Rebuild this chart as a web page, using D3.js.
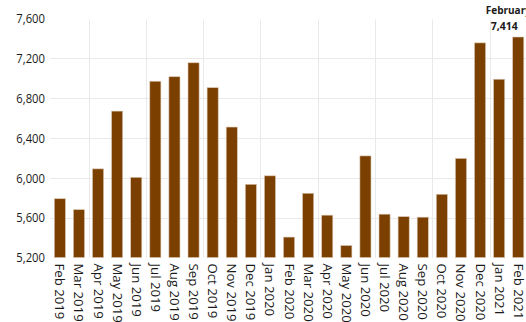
<!DOCTYPE html>
<html>
<head>
<meta charset="utf-8">
<script src="https://cdn.jsdelivr.net/npm/d3@7"></script>
<style>
  html, body { margin: 0; padding: 0; background: #fff; }
  svg { display: block; }
  text { font-family: "Open Sans", "Noto Sans", sans-serif; fill: #1a1a1a; }
</style>
</head>
<body>
<svg id="chart" width="526" height="322"></svg>
<script>
// Monthly totals, Feb 2019 – Feb 2021
const months = [
  "Feb 2019", "Mar 2019", "Apr 2019", "May 2019", "Jun 2019", "Jul 2019",
  "Aug 2019", "Sep 2019", "Oct 2019", "Nov 2019", "Dec 2019", "Jan 2020",
  "Feb 2020", "Mar 2020", "Apr 2020", "May 2020", "Jun 2020", "Jul 2020",
  "Aug 2020", "Sep 2020", "Oct 2020", "Nov 2020", "Dec 2020", "Jan 2021",
  "Feb 2021"
];
const values = [
  5790, 5680, 6090, 6670, 6005, 6970,
  7015, 7155, 6905, 6510, 5935, 6020,
  5405, 5845, 5625, 5320, 6220, 5635,
  5610, 5605, 5835, 6195, 7355, 6990,
  7414
];
const yTicks = [5200, 5600, 6000, 6400, 6800, 7200, 7600];
const quarterStarts = ["Apr 2019", "Jul 2019", "Oct 2019", "Jan 2020", "Apr 2020", "Jul 2020", "Oct 2020", "Jan 2021"];
const highlight = { month: "Feb 2021", title: "February", value: 7414 };

const svg = d3.select("#chart");
const plot = { left: 50.3, right: 527.8, top: 18.5, bottom: 257.5 };

const x = d3.scaleBand()
  .domain(months)
  .range([plot.left, plot.right])
  .paddingInner(0.42)
  .paddingOuter(0.21);

const y = d3.scaleLinear()
  .domain([5200, 7600])
  .range([plot.bottom, plot.top]);

// horizontal gridlines (top one omitted)
svg.append("g")
  .selectAll("line")
  .data(yTicks.filter(t => t > 5200 && t < 7600))
  .join("line")
  .attr("x1", plot.left)
  .attr("x2", 526)
  .attr("y1", d => Math.round(y(d)) + 0.5)
  .attr("y2", d => Math.round(y(d)) + 0.5)
  .attr("stroke", "#e9e9e9")
  .attr("stroke-width", 1);

// vertical gridlines at quarter boundaries
const step = x.step();
svg.append("g")
  .selectAll("line")
  .data(quarterStarts)
  .join("line")
  .attr("x1", d => Math.round(x(d) - (step - x.bandwidth()) / 2) + 0.5)
  .attr("x2", d => Math.round(x(d) - (step - x.bandwidth()) / 2) + 0.5)
  .attr("y1", plot.top + 1)
  .attr("y2", plot.bottom)
  .attr("stroke", "#e9e9e9")
  .attr("stroke-width", 1);

// y axis labels
const yAxis = d3.axisLeft(y).tickValues(yTicks).tickFormat(d3.format(",")).tickSize(0).tickPadding(0);
const gy = svg.append("g")
  .attr("transform", "translate(45,0)")
  .call(yAxis);
gy.select(".domain").remove();
gy.selectAll("text")
  .attr("font-size", "12px")
  .attr("font-family", "'Open Sans', sans-serif")
  .attr("fill", "#1a1a1a")
  .attr("dy", "0.36em")
  .attr("transform", "scale(0.94,1)")
  .attr("x", 0);

// bars
svg.append("g")
  .selectAll("rect")
  .data(months.map((m, i) => ({ m, v: values[i] })))
  .join("rect")
  .attr("x", d => x(d.m))
  .attr("width", x.bandwidth())
  .attr("y", d => y(d.v))
  .attr("height", d => y(5200) - y(d.v))
  .attr("fill", "#7b3f00")
  .attr("stroke", "#d8c3ae")
  .attr("stroke-width", 0.6);

// x labels, rotated to read downward
const xAxis = d3.axisBottom(x).tickSize(0).tickPadding(0);
const gx = svg.append("g")
  .attr("transform", `translate(0,${plot.bottom})`)
  .call(xAxis);
gx.select(".domain").remove();
gx.selectAll("text")
  .attr("font-size", "12px")
  .attr("font-family", "'Open Sans', sans-serif")
  .attr("fill", "#111")
  .attr("text-anchor", "start")
  .attr("dy", null)
  .attr("y", 0)
  .attr("transform", "translate(-4.5,6) rotate(90) scale(1.1,1)");

// callout on the latest month
const cx = x(highlight.month) + x.bandwidth() / 2;
svg.append("text")
  .attr("x", cx - 32.5)
  .attr("y", 14.3)
  .attr("font-size", "10px")
  .attr("font-weight", "bold")
  .text(highlight.title);
svg.append("text")
  .attr("x", cx - 14)
  .attr("y", 30.3)
  .attr("text-anchor", "middle")
  .attr("font-size", "10.5px")
  .attr("font-weight", "bold")
  .text(d3.format(",")(highlight.value));
</script>
</body>
</html>
